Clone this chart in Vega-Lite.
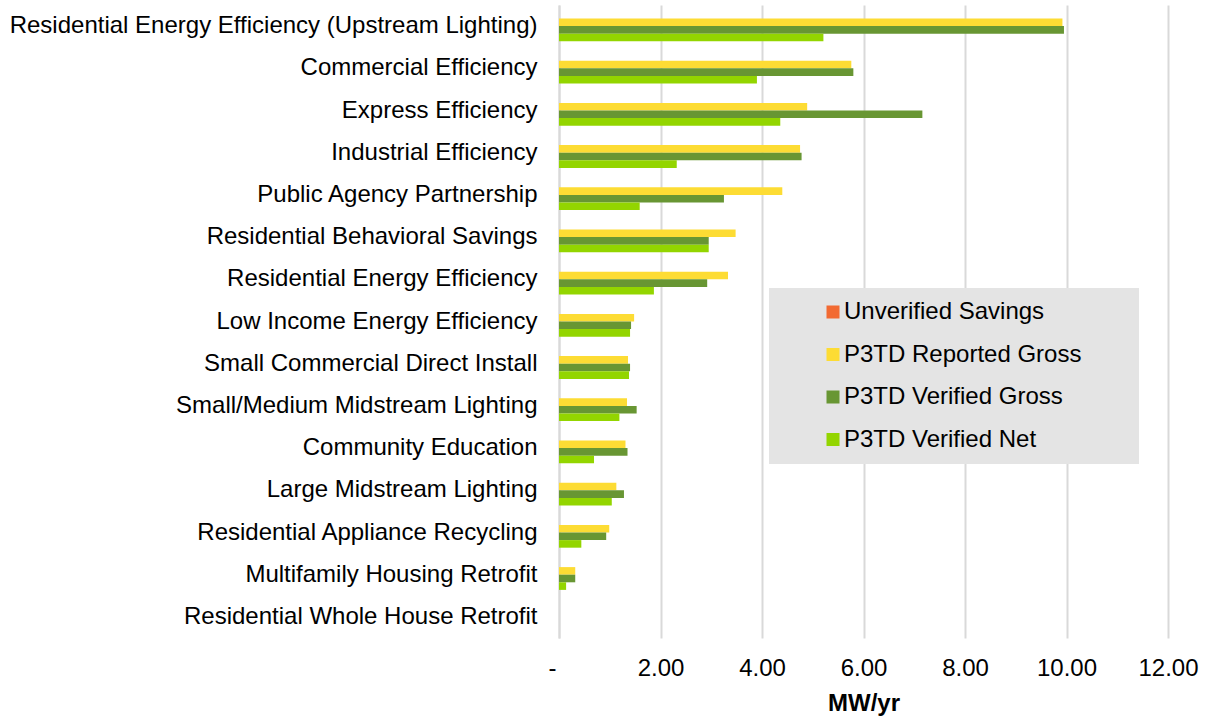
{
  "$schema": "https://vega.github.io/schema/vega-lite/v6.json",
  "autosize": {"type": "none"},
  "width": 609,
  "height": 633,
  "padding": {"left": 559, "top": 5, "right": 41, "bottom": 81},
  "background": "white",
  "config": {
    "font": "Liberation Sans",
    "view": {"stroke": null}
  },
  "data": {
    "values": [
      {"program": "Residential Energy Efficiency (Upstream Lighting)", "series": "Unverified Savings", "mw": 0},
      {"program": "Residential Energy Efficiency (Upstream Lighting)", "series": "P3TD Reported Gross", "mw": 9.92},
      {"program": "Residential Energy Efficiency (Upstream Lighting)", "series": "P3TD Verified Gross", "mw": 9.95},
      {"program": "Residential Energy Efficiency (Upstream Lighting)", "series": "P3TD Verified Net", "mw": 5.21},
      {"program": "Commercial Efficiency", "series": "Unverified Savings", "mw": 0},
      {"program": "Commercial Efficiency", "series": "P3TD Reported Gross", "mw": 5.76},
      {"program": "Commercial Efficiency", "series": "P3TD Verified Gross", "mw": 5.80},
      {"program": "Commercial Efficiency", "series": "P3TD Verified Net", "mw": 3.90},
      {"program": "Express Efficiency", "series": "Unverified Savings", "mw": 0},
      {"program": "Express Efficiency", "series": "P3TD Reported Gross", "mw": 4.89},
      {"program": "Express Efficiency", "series": "P3TD Verified Gross", "mw": 7.16},
      {"program": "Express Efficiency", "series": "P3TD Verified Net", "mw": 4.36},
      {"program": "Industrial Efficiency", "series": "Unverified Savings", "mw": 0},
      {"program": "Industrial Efficiency", "series": "P3TD Reported Gross", "mw": 4.75},
      {"program": "Industrial Efficiency", "series": "P3TD Verified Gross", "mw": 4.78},
      {"program": "Industrial Efficiency", "series": "P3TD Verified Net", "mw": 2.32},
      {"program": "Public Agency Partnership", "series": "Unverified Savings", "mw": 0},
      {"program": "Public Agency Partnership", "series": "P3TD Reported Gross", "mw": 4.40},
      {"program": "Public Agency Partnership", "series": "P3TD Verified Gross", "mw": 3.25},
      {"program": "Public Agency Partnership", "series": "P3TD Verified Net", "mw": 1.59},
      {"program": "Residential Behavioral Savings", "series": "Unverified Savings", "mw": 0},
      {"program": "Residential Behavioral Savings", "series": "P3TD Reported Gross", "mw": 3.48},
      {"program": "Residential Behavioral Savings", "series": "P3TD Verified Gross", "mw": 2.95},
      {"program": "Residential Behavioral Savings", "series": "P3TD Verified Net", "mw": 2.95},
      {"program": "Residential Energy Efficiency", "series": "Unverified Savings", "mw": 0},
      {"program": "Residential Energy Efficiency", "series": "P3TD Reported Gross", "mw": 3.33},
      {"program": "Residential Energy Efficiency", "series": "P3TD Verified Gross", "mw": 2.92},
      {"program": "Residential Energy Efficiency", "series": "P3TD Verified Net", "mw": 1.87},
      {"program": "Low Income Energy Efficiency", "series": "Unverified Savings", "mw": 0},
      {"program": "Low Income Energy Efficiency", "series": "P3TD Reported Gross", "mw": 1.48},
      {"program": "Low Income Energy Efficiency", "series": "P3TD Verified Gross", "mw": 1.42},
      {"program": "Low Income Energy Efficiency", "series": "P3TD Verified Net", "mw": 1.40},
      {"program": "Small Commercial Direct Install", "series": "Unverified Savings", "mw": 0},
      {"program": "Small Commercial Direct Install", "series": "P3TD Reported Gross", "mw": 1.36},
      {"program": "Small Commercial Direct Install", "series": "P3TD Verified Gross", "mw": 1.40},
      {"program": "Small Commercial Direct Install", "series": "P3TD Verified Net", "mw": 1.38},
      {"program": "Small/Medium Midstream Lighting", "series": "Unverified Savings", "mw": 0},
      {"program": "Small/Medium Midstream Lighting", "series": "P3TD Reported Gross", "mw": 1.34},
      {"program": "Small/Medium Midstream Lighting", "series": "P3TD Verified Gross", "mw": 1.53},
      {"program": "Small/Medium Midstream Lighting", "series": "P3TD Verified Net", "mw": 1.19},
      {"program": "Community Education", "series": "Unverified Savings", "mw": 0},
      {"program": "Community Education", "series": "P3TD Reported Gross", "mw": 1.31},
      {"program": "Community Education", "series": "P3TD Verified Gross", "mw": 1.35},
      {"program": "Community Education", "series": "P3TD Verified Net", "mw": 0.69},
      {"program": "Large Midstream Lighting", "series": "Unverified Savings", "mw": 0},
      {"program": "Large Midstream Lighting", "series": "P3TD Reported Gross", "mw": 1.13},
      {"program": "Large Midstream Lighting", "series": "P3TD Verified Gross", "mw": 1.28},
      {"program": "Large Midstream Lighting", "series": "P3TD Verified Net", "mw": 1.04},
      {"program": "Residential Appliance Recycling", "series": "Unverified Savings", "mw": 0},
      {"program": "Residential Appliance Recycling", "series": "P3TD Reported Gross", "mw": 0.99},
      {"program": "Residential Appliance Recycling", "series": "P3TD Verified Gross", "mw": 0.93},
      {"program": "Residential Appliance Recycling", "series": "P3TD Verified Net", "mw": 0.44},
      {"program": "Multifamily Housing Retrofit", "series": "Unverified Savings", "mw": 0},
      {"program": "Multifamily Housing Retrofit", "series": "P3TD Reported Gross", "mw": 0.32},
      {"program": "Multifamily Housing Retrofit", "series": "P3TD Verified Gross", "mw": 0.32},
      {"program": "Multifamily Housing Retrofit", "series": "P3TD Verified Net", "mw": 0.14},
      {"program": "Residential Whole House Retrofit", "series": "Unverified Savings", "mw": 0},
      {"program": "Residential Whole House Retrofit", "series": "P3TD Reported Gross", "mw": 0},
      {"program": "Residential Whole House Retrofit", "series": "P3TD Verified Gross", "mw": 0},
      {"program": "Residential Whole House Retrofit", "series": "P3TD Verified Net", "mw": 0}
    ]
  },
  "mark": {"type": "bar"},
  "encoding": {
    "y": {
      "field": "program",
      "type": "nominal",
      "sort": null,
      "scale": {"paddingInner": 0.28, "paddingOuter": 0.14},
      "axis": {
        "title": null,
        "ticks": false,
        "domain": true,
        "domainColor": "#d9d9d9",
        "domainWidth": 2,
        "labelFontSize": 24,
        "labelColor": "#000000",
        "labelPadding": 22,
        "labelLimit": 1000
      }
    },
    "yOffset": {
      "field": "series",
      "type": "nominal",
      "sort": ["Unverified Savings", "P3TD Reported Gross", "P3TD Verified Gross", "P3TD Verified Net"]
    },
    "x": {
      "field": "mw",
      "type": "quantitative",
      "scale": {"domain": [0, 12], "nice": false},
      "axis": {
        "values": [0, 2, 4, 6, 8, 10, 12],
        "labelExpr": "datum.value == 0 ? '-' : format(datum.value, '.2f')",
        "labelOffset": {"condition": {"test": "datum.value == 0", "value": -7}, "value": 0},
        "labelFlush": false,
        "labelOverlap": false,
        "grid": true,
        "gridColor": "#d9d9d9",
        "gridWidth": 2,
        "domain": false,
        "ticks": false,
        "labelFontSize": 24,
        "labelColor": "#000000",
        "labelPadding": 18,
        "title": "MW/yr",
        "titleFontSize": 24,
        "titleFontWeight": "bold",
        "titleColor": "#000000",
        "titlePadding": 11
      }
    },
    "color": {
      "field": "series",
      "type": "nominal",
      "scale": {
        "domain": ["Unverified Savings", "P3TD Reported Gross", "P3TD Verified Gross", "P3TD Verified Net"],
        "range": ["#F26A32", "#FDDC34", "#689633", "#93D500"]
      },
      "legend": {
        "title": " ",
        "titleOrient": "right",
        "titleFontSize": 24,
        "titlePadding": 46,
        "orient": "none",
        "legendX": 210,
        "legendY": 283,
        "fillColor": "#e4e4e4",
        "padding": 12,
        "symbolType": "square",
        "symbolSize": 169,
        "symbolStrokeWidth": 0,
        "symbolOffset": 40,
        "labelOffset": -1,
        "labelLimit": 500,
        "labelFontSize": 24,
        "labelColor": "#000000",
        "rowPadding": 18.5
      }
    }
  }
}
